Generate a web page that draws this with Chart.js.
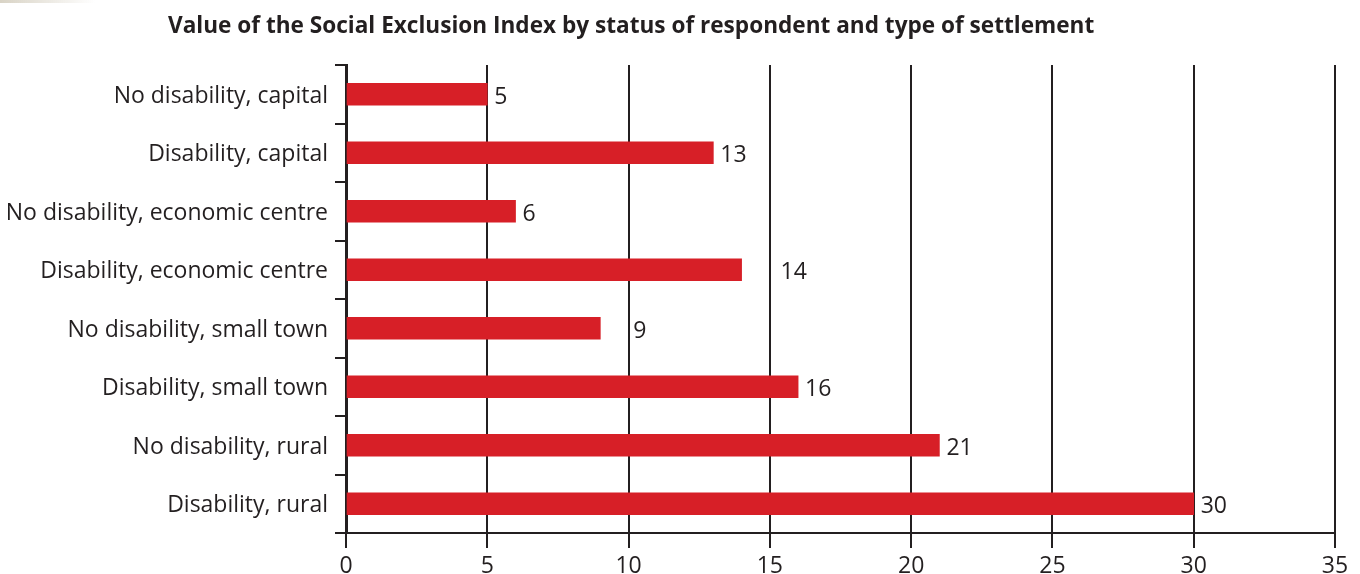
<!DOCTYPE html>
<html lang="en">
<head>
<meta charset="UTF-8">
<title>Social Exclusion Index</title>
<script src="https://cdn.jsdelivr.net/npm/chart.js"></script>
<style>
  html, body { margin: 0; padding: 0; background: #fff; }
  #wrap { position: relative; width: 1360px; height: 574px; }
  /* faint scuff along the top-left edge of the page */
  #scuff { position: absolute; left: 0; top: 0; width: 95px; height: 3px;
           background: linear-gradient(to right, rgba(185,175,150,0.55), rgba(205,195,175,0)); }
</style>
</head>
<body>
<div id="wrap">
  <canvas id="chart" width="1360" height="574"></canvas>
  <div id="scuff"></div>
</div>
<script>
const chartTitle = 'Value of the Social Exclusion Index by status of respondent and type of settlement';
const categories = [
  'No disability, capital',
  'Disability, capital',
  'No disability, economic centre',
  'Disability, economic centre',
  'No disability, small town',
  'Disability, small town',
  'No disability, rural',
  'Disability, rural'
];
const indexValues = [5, 13, 6, 14, 9, 16, 21, 30];
const xTicks = [0, 5, 10, 15, 20, 25, 30, 35];

const ink = '#231f20';
const barRed = '#d71f27';
const fontFamily = '"Open Sans", "Noto Sans", sans-serif';

// bold heading above the plot
const headingPlugin = {
  id: 'heading',
  afterDraw(chart) {
    const ctx = chart.ctx;
    ctx.save();
    ctx.font = 'bold 22.6px ' + fontFamily;
    ctx.fillStyle = ink;
    ctx.textAlign = 'left';
    ctx.textBaseline = 'alphabetic';
    ctx.fillText(chartTitle, 168, 33);
    ctx.restore();
  }
};

// number written just past the end of each bar
const valueLabelPlugin = {
  id: 'valueLabels',
  afterDatasetsDraw(chart, args, opts) {
    const ctx = chart.ctx;
    const meta = chart.getDatasetMeta(0);
    ctx.save();
    ctx.font = '23px ' + fontFamily;
    ctx.fillStyle = ink;
    ctx.textAlign = 'left';
    ctx.textBaseline = 'middle';
    meta.data.forEach((bar, i) => {
      const gap = opts.extraGap[i] !== undefined ? opts.extraGap[i] : opts.gap;
      ctx.fillText(String(indexValues[i]), bar.x + gap, bar.y + 3);
    });
    ctx.restore();
  }
};

new Chart(document.getElementById('chart'), {
  type: 'bar',
  data: {
    labels: categories,
    datasets: [{
      data: indexValues,
      backgroundColor: barRed,
      borderWidth: 0,
      barThickness: 22
    }]
  },
  options: {
    indexAxis: 'y',
    responsive: false,
    animation: false,
    devicePixelRatio: 1,
    layout: { padding: { top: 65, right: 25, left: 0, bottom: 0 } },
    plugins: {
      legend: { display: false },
      tooltip: { enabled: false },
      valueLabels: { gap: 7, extraGap: { 3: 39, 4: 33 } }
    },
    scales: {
      x: {
        type: 'linear',
        min: 0,
        max: 35,
        afterBuildTicks(scale) {
          scale.ticks = xTicks.map(v => ({ value: v }));
        },
        afterFit(scale) { scale.height = 41; },
        grid: {
          color: ink,
          lineWidth: 2,
          tickLength: 15,
          drawOnChartArea: true
        },
        border: { color: ink, width: 2 },
        ticks: {
          color: ink,
          padding: 5,
          font: { family: fontFamily, size: 23 }
        }
      },
      y: {
        afterFit(scale) { scale.width = 346; },
        grid: {
          color: ink,
          lineWidth: 2,
          tickLength: 11,
          drawOnChartArea: false,
          offset: true
        },
        border: { color: ink, width: 3 },
        ticks: {
          color: ink,
          padding: 7,
          labelOffset: 2,
          font: { family: fontFamily, size: 23 }
        }
      }
    }
  },
  plugins: [headingPlugin, valueLabelPlugin]
});
</script>
</body>
</html>
